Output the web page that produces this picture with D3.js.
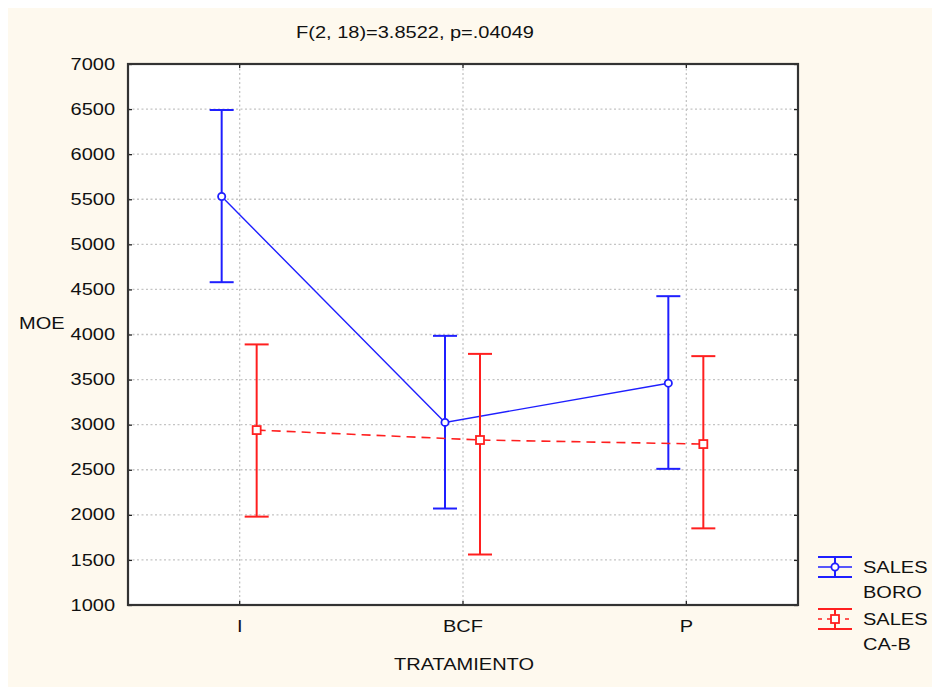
<!DOCTYPE html>
<html>
<head>
<meta charset="utf-8">
<script src="https://cdn.jsdelivr.net/npm/d3@7"></script>
<style>
  html, body { margin: 0; padding: 0; background: #ffffff; }
  svg { display: block; }
  text { font-family: "Liberation Sans", Arial, sans-serif; fill: #111; }
</style>
</head>
<body>
<svg id="chart" width="932" height="687"></svg>
<script>
// Treatments on the x axis
const categories = ["I", "BCF", "P"];

// SALES BORO: means with lower / upper interval limits
const boroMean = [5530, 3025, 3460];
const boroLow  = [4580, 2070, 2510];
const boroHigh = [6490, 3985, 4425];

// SALES CA-B: means with lower / upper interval limits
const cabMean = [2940, 2830, 2785];
const cabLow  = [1980, 1560, 1850];
const cabHigh = [3890, 3785, 3760];

const yTicks = [1000, 1500, 2000, 2500, 3000, 3500, 4000, 4500, 5000, 5500, 6000, 6500, 7000];
const seriesNames = [["SALES", "BORO"], ["SALES", "CA-B"]];
const titleText = "F(2, 18)=3.8522, p=.04049";
const xTitle = "TRATAMIENTO";
const yTitle = "MOE";

const svg = d3.select("#chart");
const W = 932, H = 687;
const plot = { left: 128, right: 798, top: 64, bottom: 605 };

// page background panel
svg.append("rect").attr("x", 8).attr("y", 8).attr("width", W - 8).attr("height", H - 8)
  .attr("fill", "#fef9ee");
svg.append("rect").attr("x", plot.left).attr("y", plot.top)
  .attr("width", plot.right - plot.left).attr("height", plot.bottom - plot.top)
  .attr("fill", "#ffffff");

const x = d3.scaleBand().domain(categories).range([plot.left, plot.right]);
const xc = c => x(c) + x.bandwidth() / 2;
const y = d3.scaleLinear().domain([1000, 7000]).range([plot.bottom, plot.top]);

// dotted grid
const grid = svg.append("g");
grid.selectAll("line.h").data(yTicks.slice(1, -1)).join("line")
  .attr("x1", plot.left).attr("x2", plot.right)
  .attr("y1", d => y(d)).attr("y2", d => y(d))
  .attr("stroke", "#c4c4c4").attr("stroke-width", 1.3).attr("stroke-dasharray", "2,2.5");
grid.selectAll("line.v").data(categories).join("line")
  .attr("x1", d => xc(d)).attr("x2", d => xc(d))
  .attr("y1", plot.top).attr("y2", plot.bottom)
  .attr("stroke", "#c4c4c4").attr("stroke-width", 1.3).attr("stroke-dasharray", "2,2.5");

// axes with inward ticks on all four sides
const axL = svg.append("g").attr("transform", `translate(${plot.left},0)`)
  .call(d3.axisLeft(y).tickValues(yTicks).tickFormat(d3.format("d"))
    .tickSizeInner(-4).tickSizeOuter(0).tickPadding(13));
const axR = svg.append("g").attr("transform", `translate(${plot.right},0)`)
  .call(d3.axisRight(y).tickValues(yTicks).tickSizeInner(-4).tickSizeOuter(0).tickFormat(""));
const axB = svg.append("g").attr("transform", `translate(0,${plot.bottom})`)
  .call(d3.axisBottom(x).tickSizeInner(-4).tickSizeOuter(0).tickPadding(16));
const axT = svg.append("g").attr("transform", `translate(0,${plot.top})`)
  .call(d3.axisTop(x).tickSizeInner(-4).tickSizeOuter(0).tickFormat(""));
[axL, axR, axB, axT].forEach(a => {
  a.select(".domain").remove();
  a.selectAll(".tick line").attr("stroke", "#222").attr("stroke-width", 1.3);
  a.selectAll("text").attr("font-size", 16).attr("fill", "#111")
    .attr("font-family", "'Liberation Sans', Arial, sans-serif");
});

// plot frame
svg.append("rect").attr("x", plot.left).attr("y", plot.top)
  .attr("width", plot.right - plot.left).attr("height", plot.bottom - plot.top)
  .attr("fill", "none").attr("stroke", "#333").attr("stroke-width", 2.2);

const series = [
  { mean: boroMean, low: boroLow, high: boroHigh, color: "#1f1fff", off: -18, dash: null, lw: 1.4, marker: "circle" },
  { mean: cabMean, low: cabLow, high: cabHigh, color: "#ff1f1f", off: 17, dash: "9,6", lw: 1.6, marker: "square" }
];

series.forEach(s => {
  const g = svg.append("g");
  const px = i => xc(categories[i]) + s.off;
  const idx = d3.range(categories.length);
  // mean line
  g.append("path")
    .attr("d", d3.line().x(i => px(i)).y(i => y(s.mean[i]))(idx))
    .attr("fill", "none").attr("stroke", s.color).attr("stroke-width", s.lw)
    .attr("stroke-dasharray", s.dash);
  // interval whiskers
  g.selectAll("line.w").data(idx).join("line")
    .attr("x1", px).attr("x2", px)
    .attr("y1", i => y(s.low[i])).attr("y2", i => y(s.high[i]))
    .attr("stroke", s.color).attr("stroke-width", 2);
  ["low", "high"].forEach(k => {
    g.selectAll("line." + k).data(idx).join("line")
      .attr("x1", i => px(i) - 12).attr("x2", i => px(i) + 12)
      .attr("y1", i => y(s[k][i])).attr("y2", i => y(s[k][i]))
      .attr("stroke", s.color).attr("stroke-width", 2);
  });
  // markers
  if (s.marker === "circle") {
    g.selectAll("circle").data(idx).join("circle")
      .attr("cx", px).attr("cy", i => y(s.mean[i])).attr("r", 3.6)
      .attr("fill", "#fff").attr("stroke", s.color).attr("stroke-width", 1.8);
  } else {
    g.selectAll("rect").data(idx).join("rect")
      .attr("x", i => px(i) - 4).attr("y", i => y(s.mean[i]) - 4)
      .attr("width", 8).attr("height", 8)
      .attr("fill", "#fff").attr("stroke", s.color).attr("stroke-width", 1.8);
  }
});

// titles
svg.append("text").attr("x", 415).attr("y", 38)
  .attr("text-anchor", "middle").attr("font-size", 16).text(titleText);
svg.append("text").attr("x", 464).attr("y", 670)
  .attr("text-anchor", "middle").attr("font-size", 16).text(xTitle);
svg.append("text").attr("x", 19).attr("y", 329)
  .attr("font-size", 16).text(yTitle);

// legend
const legend = svg.append("g");
const legRows = [567, 619];
series.forEach((s, k) => {
  const cy = legRows[k], lx0 = 818, lx1 = 852, mx = 835;
  const g = legend.append("g");
  g.append("line").attr("x1", lx0).attr("x2", lx1).attr("y1", cy - 10).attr("y2", cy - 10)
    .attr("stroke", s.color).attr("stroke-width", 2);
  g.append("line").attr("x1", lx0).attr("x2", lx1).attr("y1", cy + 10).attr("y2", cy + 10)
    .attr("stroke", s.color).attr("stroke-width", 2);
  g.append("line").attr("x1", mx).attr("x2", mx).attr("y1", cy - 10).attr("y2", cy + 10)
    .attr("stroke", s.color).attr("stroke-width", 2);
  g.append("line").attr("x1", lx0).attr("x2", lx1).attr("y1", cy).attr("y2", cy)
    .attr("stroke", s.color).attr("stroke-width", s.lw)
    .attr("stroke-dasharray", s.dash ? "4,5" : null);
  if (s.marker === "circle") {
    g.append("circle").attr("cx", mx).attr("cy", cy).attr("r", 3.6)
      .attr("fill", "#fff").attr("stroke", s.color).attr("stroke-width", 1.8);
  } else {
    g.append("rect").attr("x", mx - 4).attr("y", cy - 4).attr("width", 8).attr("height", 8)
      .attr("fill", "#fff").attr("stroke", s.color).attr("stroke-width", 1.8);
  }
  seriesNames[k].forEach((t, j) => {
    g.append("text").attr("x", 863).attr("y", cy + 6 + j * 25)
      .attr("font-size", 16).text(t);
  });
});

// widen glyphs horizontally to the chart's lettering proportions
svg.selectAll("text").each(function () {
  const len = this.getComputedTextLength();
  if (len > 0) {
    d3.select(this).attr("textLength", len * 1.25).attr("lengthAdjust", "spacingAndGlyphs");
  }
});
</script>
</body>
</html>
